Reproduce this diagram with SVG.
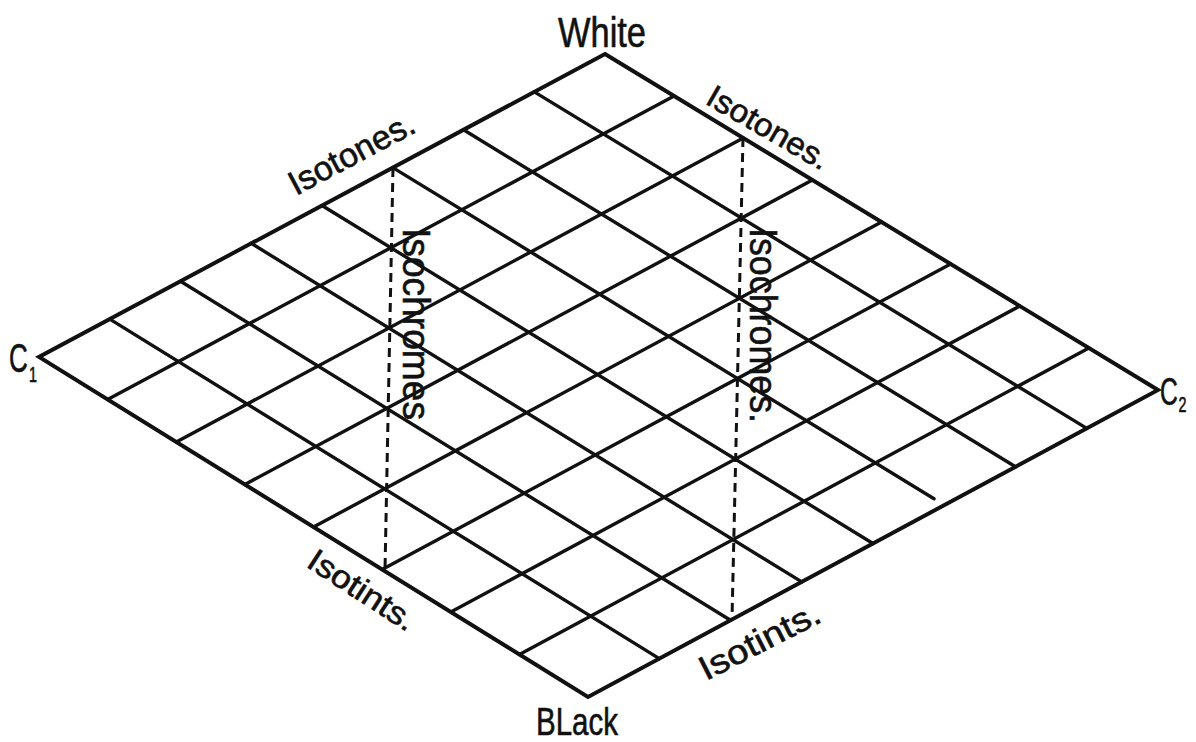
<svg xmlns="http://www.w3.org/2000/svg" width="1196" height="742" viewBox="0 0 1196 742">
<style>
.edge{fill:none;stroke:#111;stroke-width:4;stroke-linejoin:miter}
.grid{stroke:#111;stroke-width:3.4;stroke-linecap:round;fill:none}
.dash{stroke:#111;stroke-width:3;stroke-dasharray:9 6;fill:none}
.lbl{font-family:"Liberation Sans",Arial,sans-serif;fill:#111;stroke:#111;stroke-width:0.6}
</style>
<rect width="1196" height="742" fill="#ffffff"/>
<g id="connectors">
<polygon class="edge" points="605,54 1158,390 588,697 39,357"/>
<g id="family-a">
<line class="grid" x1="107.6" y1="399.5" x2="674.1" y2="96"/>
<line class="grid" x1="176.3" y1="442" x2="743.3" y2="138"/>
<line class="grid" x1="244.9" y1="484.5" x2="812.4" y2="180"/>
<line class="grid" x1="313.5" y1="527" x2="881.5" y2="222"/>
<line class="grid" x1="382.1" y1="569.5" x2="950.6" y2="264"/>
<line class="grid" x1="450.8" y1="612" x2="1019.8" y2="306"/>
<line class="grid" x1="519.4" y1="654.5" x2="1088.9" y2="348"/>
</g>
<g id="family-b">
<line class="grid" x1="109.8" y1="319.1" x2="659.3" y2="658.6"/>
<line class="grid" x1="180.5" y1="281.3" x2="730.5" y2="620.3"/>
<line class="grid" x1="251.3" y1="243.4" x2="801.8" y2="581.9"/>
<line class="grid" x1="322" y1="205.5" x2="873" y2="543.5"/>
<line class="grid" x1="392.8" y1="167.6" x2="934" y2="498.8"/>
<line class="grid" x1="463.5" y1="129.8" x2="1015.5" y2="466.8"/>
<line class="grid" x1="534.3" y1="91.9" x2="1086.8" y2="428.4"/>
</g>
<line class="dash" x1="393" y1="168" x2="385" y2="570"/>
<line class="dash" x1="743" y1="138" x2="732" y2="619"/>
</g>
<g id="white"><text class="lbl" x="558" y="47" font-size="42" textLength="88" lengthAdjust="spacingAndGlyphs">White</text></g>
<g id="black"><text class="lbl" x="536" y="735" font-size="38" textLength="82" lengthAdjust="spacingAndGlyphs">BLack</text></g>
<g id="c1"><text class="lbl" font-size="40" transform="translate(9,372) scale(0.65,1)">C<tspan font-size="22" dx="2" dy="10">1</tspan></text></g>
<g id="c2"><text class="lbl" font-size="38" transform="translate(1160,405) scale(0.65,1)">C<tspan font-size="22" dx="1" dy="7">2</tspan></text></g>
<g id="isotones-left"><text class="lbl" font-size="34" textLength="138" lengthAdjust="spacingAndGlyphs" transform="translate(296,196) rotate(-28)">Isotones.</text></g>
<g id="isotones-right"><text class="lbl" font-size="32" textLength="136" lengthAdjust="spacingAndGlyphs" transform="translate(704,103) rotate(30)">Isotones.</text></g>
<g id="isochromes-left"><text class="lbl" font-size="38" textLength="192" lengthAdjust="spacingAndGlyphs" transform="translate(403,228) rotate(90)">Isochromes</text></g>
<g id="isochromes-right"><text class="lbl" font-size="38" textLength="195" lengthAdjust="spacingAndGlyphs" transform="translate(750,228) rotate(90)">Isochromes.</text></g>
<g id="isotints-left"><text class="lbl" font-size="32" textLength="122" lengthAdjust="spacingAndGlyphs" transform="translate(305,566) rotate(33)">Isotints.</text></g>
<g id="isotints-right"><text class="lbl" font-size="34" textLength="132" lengthAdjust="spacingAndGlyphs" transform="translate(706,681) rotate(-27)">Isotints.</text></g>
</svg>
